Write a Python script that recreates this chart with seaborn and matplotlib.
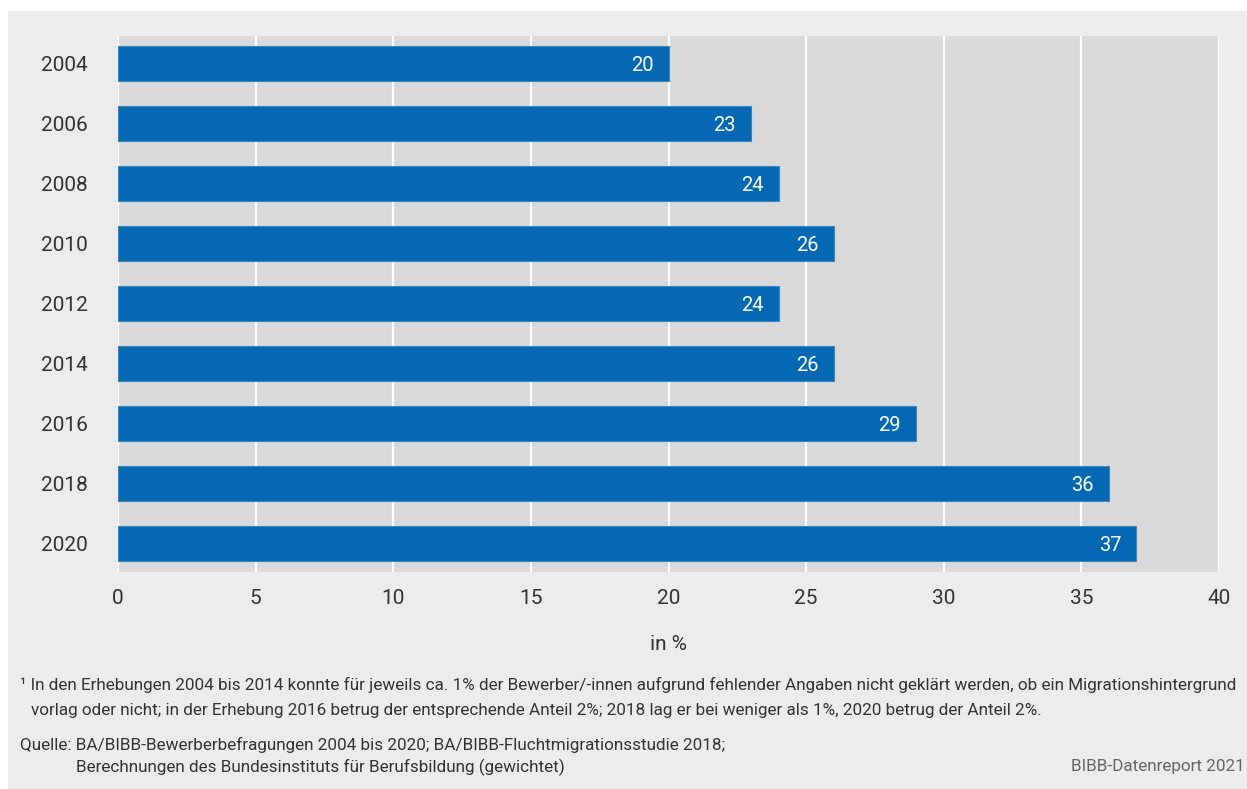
import matplotlib
matplotlib.use('Agg')
import matplotlib.pyplot as plt
from matplotlib.patches import Rectangle
import seaborn as sns
import pandas as pd

YEARS = ['2004', '2006', '2008', '2010', '2012', '2014', '2016', '2018', '2020']
SHARES = [20, 23, 24, 26, 24, 26, 29, 36, 37]
X_TICKS = [0, 5, 10, 15, 20, 25, 30, 35, 40]

X_LABEL = 'in %'
FOOTNOTE_1 = ('¹ In den Erhebungen 2004 bis 2014 konnte für jeweils ca. 1% der Bewerber/-innen aufgrund '
              'fehlender Angaben nicht geklärt werden, ob ein Migrationshintergrund')
FOOTNOTE_2 = ('vorlag oder nicht; in der Erhebung 2016 betrug der entsprechende Anteil 2%; '
              '2018 lag er bei weniger als 1%, 2020 betrug der Anteil 2%.')
SOURCE_1 = 'Quelle: BA/BIBB-Bewerberbefragungen 2004 bis 2020; BA/BIBB-Fluchtmigrationsstudie 2018;'
SOURCE_2 = 'Berechnungen des Bundesinstituts für Berufsbildung (gewichtet)'
REPORT = 'BIBB-Datenreport 2021'

BLUE = '#0568b3'
PANEL = '#ececec'
PLOT_BG = '#d9d9d9'
TEXT = '#333333'

sns.set_theme(style='white')
plt.rcParams['font.family'] = ['Roboto', 'DejaVu Sans']

df = pd.DataFrame({'year': YEARS, 'share': SHARES})

W, H = 1247, 789
fig = plt.figure(figsize=(W / 100, H / 100), dpi=100)
fig.patch.set_facecolor('white')
fig.patches.append(Rectangle((8 / W, 0), 1 - 8 / W, 1 - 11 / H, transform=fig.transFigure,
                             facecolor=PANEL, edgecolor='none', zorder=-5))

ax = fig.add_axes([118 / W, 1 - 572 / H, (1219 - 118) / W, (572 - 36) / H])
ax.set_facecolor(PLOT_BG)
ax.set_axisbelow(True)
ax.grid(axis='x', color='white', linewidth=1.6)

sns.barplot(data=df, x='share', y='year', orient='h', color=BLUE, width=0.58,
            saturation=1, edgecolor='#3d86c6', linewidth=0.8, ax=ax)

for i, v in enumerate(SHARES):
    ax.text(v - 0.55, i + 0.03, str(v), color='white', fontsize=14.5, ha='right', va='center')

ax.set_xlim(0, 40)
ax.set_ylim(8.48, -0.46)
ax.set_xticks(X_TICKS)
ax.set_xticklabels([str(t) for t in X_TICKS])
ax.tick_params(axis='both', length=0, labelsize=15, colors=TEXT)
ax.tick_params(axis='x', pad=12)
ax.tick_params(axis='y', pad=22)
ax.set_ylabel('')
ax.set_xlabel(X_LABEL, fontsize=15, color=TEXT, labelpad=20)
for s in ax.spines.values():
    s.set_visible(False)

fig.text(20 / W, 1 - 685 / H, FOOTNOTE_1, fontsize=12.3, color=TEXT, va='center')
fig.text(31 / W, 1 - 711 / H, FOOTNOTE_2, fontsize=12.3, color=TEXT, va='center')
fig.text(20 / W, 1 - 745 / H, SOURCE_1, fontsize=12.3, color=TEXT, va='center')
fig.text(76 / W, 1 - 767 / H, SOURCE_2, fontsize=12.3, color=TEXT, va='center')
fig.text(1245 / W, 1 - 767 / H, REPORT, fontsize=12.3, color='#666666', va='center', ha='right')

fig.savefig('out.png', dpi=100, facecolor=fig.get_facecolor())
